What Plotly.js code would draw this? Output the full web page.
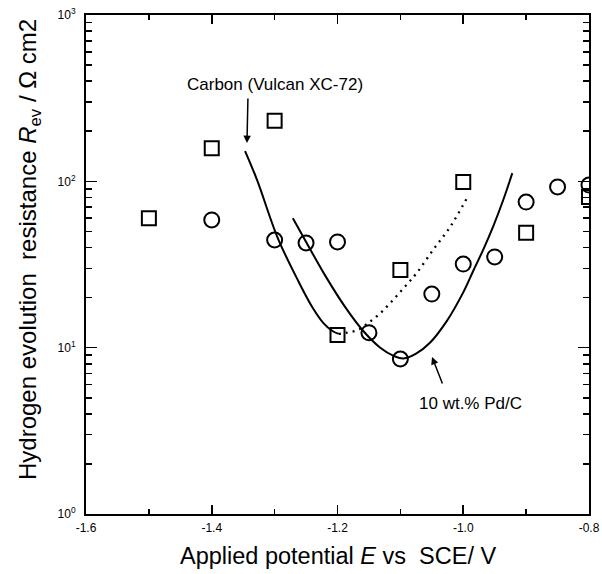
<!DOCTYPE html>
<html>
<head>
<meta charset="utf-8">
<script src="https://cdn.plot.ly/plotly-3.0.1.min.js"></script>
<style>html,body{margin:0;padding:0;background:#fff;}#chart{width:602px;height:574px;}</style>
</head>
<body>
<div id="chart"></div>
<script>
// Carbon (Vulcan XC-72) data (squares)
const carbonE = [-1.5, -1.4, -1.3, -1.2, -1.1, -1.0, -0.9, -0.8];
const carbonR = [60, 158, 231, 11.9, 29.3, 99, 49, 80.5];
// 10 wt.% Pd/C data (circles)
const pdE = [-1.4, -1.3, -1.25, -1.2, -1.15, -1.1, -1.05, -1.0, -0.95, -0.9, -0.85, -0.8];
const pdR = [58.6, 44.4, 42.6, 43.2, 12.3, 8.55, 21, 31.8, 35.1, 75, 92.5, 95];
// Carbon fitted curve (solid part)
const carbonFitE = [-1.347, -1.328, -1.295, -1.262, -1.240, -1.222, -1.208, -1.198];
const carbonFitR = [152, 102, 45.6, 25, 17.5, 14.0, 12.6, 12.1];
// Carbon fitted curve (dotted part)
const carbonDotE = [-1.198, -1.185, -1.167, -1.151, -1.132, -1.112, -1.093, -1.074, -1.048, -1.021, -0.994];
const carbonDotR = [12.1, 12.3, 12.8, 14.1, 16.1, 19.3, 23.2, 28.1, 38.7, 53.1, 79.4];
// Pd/C fitted curve
const pdFitE = [-1.271, -1.249, -1.220, -1.188, -1.159, -1.132, -1.110, -1.095, -1.075, -1.053, -1.026, -1.000, -0.984, -0.968, -0.952, -0.936, -0.922];
const pdFitR = [60, 42.6, 27.3, 17.6, 12.6, 10.0, 8.9, 8.6, 9.2, 10.7, 14.5, 21.5, 29, 39, 54, 78, 112];
// ticks and tick labels
const xTickVals = [-1.6, -1.4, -1.2, -1.0, -0.8];
const xTickText = ['-1.6', '-1.4', '-1.2', '-1.0', '-0.8'];
const xMinorVals = [-1.5, -1.3, -1.1, -0.9];
const yTickVals = [1, 10, 100, 1000];
const yTickText = ['10<sup>0</sup>', '10<sup>1</sup>', '10<sup>2</sup>', '10<sup>3</sup>'];
const yMinorVals = [2, 3, 4, 5, 6, 7, 8, 9, 20, 30, 40, 50, 60, 70, 80, 90, 200, 300, 400, 500, 600, 700, 800, 900];

const FONT = 'Liberation Sans, Arial, Helvetica, sans-serif';

const traces = [
  {x: carbonFitE, y: carbonFitR, mode: 'lines', line: {color: '#000', width: 2, shape: 'spline'}, hoverinfo: 'skip'},
  {x: carbonDotE, y: carbonDotR, mode: 'lines', line: {color: '#000', width: 2.3, dash: '2px,5px', shape: 'spline'}, hoverinfo: 'skip'},
  {x: pdFitE, y: pdFitR, mode: 'lines', line: {color: '#000', width: 2, shape: 'spline'}, hoverinfo: 'skip'},
  {x: carbonE, y: carbonR, mode: 'markers', marker: {symbol: 'square-open', size: 14, color: '#000', line: {width: 2, color: '#000'}}},
  {x: pdE, y: pdR, mode: 'markers', marker: {symbol: 'circle-open', size: 15, color: '#000', line: {width: 2, color: '#000'}}}
];

const layout = {
  width: 602, height: 574,
  margin: {l: 86, r: 13, t: 15, b: 60},
  paper_bgcolor: '#fff', plot_bgcolor: '#fff',
  showlegend: false,
  font: {family: FONT, color: '#000'},
  xaxis: {
    range: [-1.6, -0.8],
    tickmode: 'array', tickvals: xTickVals, ticktext: xTickText,
    ticks: 'inside', ticklen: 9, tickwidth: 1.6, tickcolor: '#000',
    minor: {tickmode: 'array', tickvals: xMinorVals, ticks: 'inside', ticklen: 5, tickwidth: 1.6, tickcolor: '#000', showgrid: false},
    showline: true, linewidth: 2, linecolor: '#000', mirror: 'allticks',
    showgrid: false, zeroline: false,
    tickfont: {size: 12, family: FONT},
    ticklabelstandoff: 2
  },
  yaxis: {
    type: 'log', range: [0, 3],
    tickmode: 'array', tickvals: yTickVals, ticktext: yTickText,
    ticks: 'inside', ticklen: 11, tickwidth: 1.6, tickcolor: '#000',
    minor: {tickmode: 'array', tickvals: yMinorVals, ticks: 'inside', ticklen: 6, tickwidth: 1.6, tickcolor: '#000', showgrid: false},
    showline: true, linewidth: 2, linecolor: '#000', mirror: 'allticks',
    showgrid: false, zeroline: false,
    tickfont: {size: 12, family: FONT},
    ticklabelstandoff: 6
  },
  annotations: [
    {xref: 'paper', yref: 'paper', x: 0.5, y: -0.084, xanchor: 'center', yanchor: 'middle',
     text: 'Applied potential <i>E</i> vs  SCE/ V', showarrow: false, font: {size: 23.5, family: FONT}},
    {xref: 'paper', yref: 'paper', x: -0.1133, y: 0.529, xanchor: 'center', yanchor: 'middle', textangle: -90,
     text: 'Hydrogen evolution  resistance <i>R</i><sub>ev</sub> / Ω cm2', showarrow: false, font: {size: 24, family: FONT}},
    {x: -1.300, y: 2.585, xref: 'x', yref: 'y', text: 'Carbon (Vulcan XC-72)', showarrow: false, font: {size: 17, family: FONT}},
    {x: -1.344, y: 2.23, xref: 'x', yref: 'y', text: '', showarrow: true, arrowhead: 2, arrowsize: 1, arrowwidth: 1.5, arrowcolor: '#000', ax: 1, ay: -46},
    {x: -0.988, y: 0.664, xref: 'x', yref: 'y', text: '10 wt.% Pd/C', showarrow: false, font: {size: 17, family: FONT}},
    {x: -1.0497, y: 0.944, xref: 'x', yref: 'y', text: '', showarrow: true, arrowhead: 2, arrowsize: 1, arrowwidth: 1.5, arrowcolor: '#000', ax: 11, ay: 28}
  ]
};

Plotly.newPlot('chart', traces, layout, {displayModeBar: false, staticPlot: true});
</script>
</body>
</html>
